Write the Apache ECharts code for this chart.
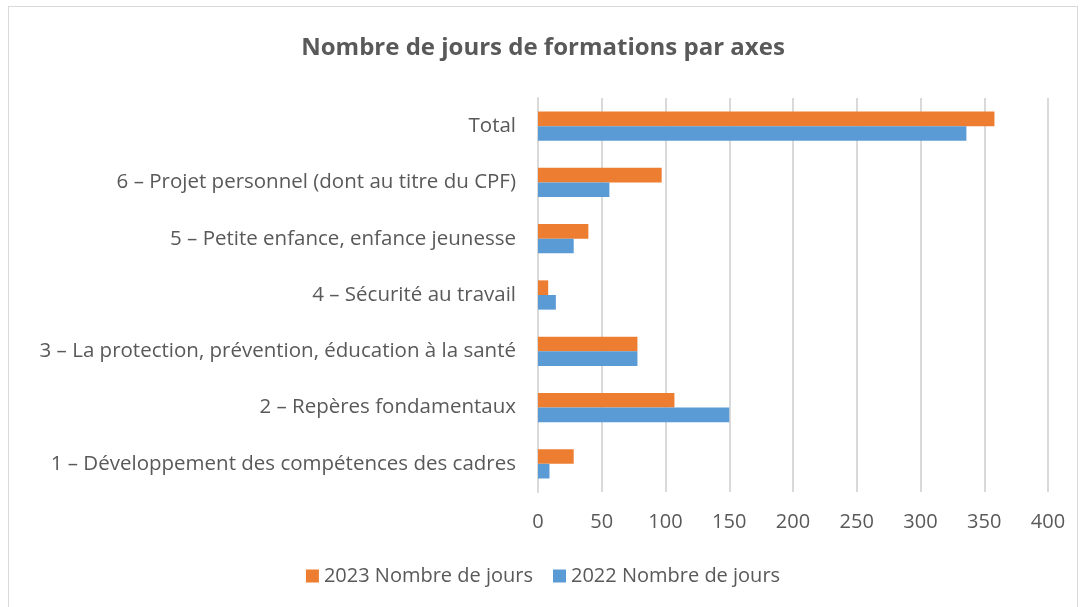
<!DOCTYPE html>
<html style='height: 100%'>
<head>
    <meta charset='utf-8'>
</head>
<body style='height: 100%; margin: 0; background: #fff'>
    <div id='container' style='position: absolute; left: 8px; top: 6px; width: 1070px; height: 610px; border: 1px solid #d9d9d9; box-sizing: border-box'></div>
    <script type='text/javascript' src='https://cdn.jsdelivr.net/npm/echarts@6/dist/echarts.min.js'></script>
    <script type="text/javascript">

var categories = [
    '1 – Développement des compétences des cadres',
    '2 – Repères fondamentaux',
    '3 – La protection, prévention, éducation à la santé',
    '4 – Sécurité au travail',
    '5 – Petite enfance, enfance jeunesse',
    '6 – Projet personnel (dont au titre du CPF)',
    'Total'
];
var jours2023 = [28, 107, 78, 8, 39.5, 97, 358];
var jours2022 = [9, 150, 78, 14, 28, 56, 336];
var xTicks = [0, 400, 50];

var dom = document.getElementById("container");
var myChart = echarts.init(dom);
var fontFam = "'Open Sans', sans-serif";

// first series is drawn on top of each band
var option = {
    animation: false,
    title: {
        text: 'Nombre de jours de formations par axes',
        left: 'center',
        top: 24,
        textStyle: { color: '#595959', fontSize: 24, fontWeight: 'bold', fontFamily: fontFam }
    },
    legend: {
        data: ['2023 Nombre de jours', '2022 Nombre de jours'],
        bottom: 24,
        left: 'center',
        itemWidth: 13,
        itemHeight: 13,
        itemGap: 20,
        icon: 'rect',
        textStyle: { color: '#595959', fontSize: 20, fontFamily: fontFam }
    },
    grid: { left: 529, right: 29, top: 91, bottom: 123 },
    xAxis: {
        type: 'value',
        min: xTicks[0],
        max: xTicks[1],
        interval: xTicks[2],
        axisLine: { show: false },
        axisTick: { show: false },
        axisLabel: { color: '#595959', fontSize: 20, margin: 20, fontFamily: fontFam },
        splitLine: { lineStyle: { color: '#d9d9d9', width: 2 } }
    },
    yAxis: {
        type: 'category',
        data: categories,
        axisLine: { lineStyle: { color: '#d9d9d9', width: 2 } },
        axisTick: { show: false },
        axisLabel: { color: '#595959', fontSize: 20.5, margin: 22, fontFamily: fontFam }
    },
    series: [
        {
            name: '2023 Nombre de jours',
            type: 'bar',
            data: jours2023,
            barGap: '0%',
            barCategoryGap: '48%',
            itemStyle: { color: '#ED7D31' }
        },
        {
            name: '2022 Nombre de jours',
            type: 'bar',
            data: jours2022,
            itemStyle: { color: '#5B9BD5' }
        }
    ]
};

myChart.setOption(option, true);
       </script>
   </body>
</html>
